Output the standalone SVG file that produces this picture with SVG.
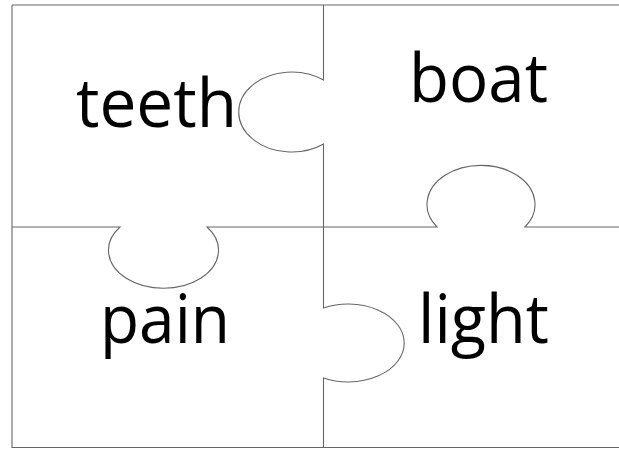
<svg xmlns="http://www.w3.org/2000/svg" width="619" height="449" viewBox="0 0 619 449">
<style>
.cut{fill:none;stroke:#666;stroke-width:1.1}
.word{font-family:"Open Sans","Noto Sans","Liberation Sans",sans-serif;font-size:67px;fill:#000}
</style>
<rect width="619" height="449" fill="#fff"/>
<g id="connectors">
<path class="cut" d="M12,5 H619"/>
<path class="cut" d="M12,5 V447.5 H619"/>
<path class="cut" d="M323.5,5 V80 A53,40 0 1 0 323.5,144 V308 A56,39 0 1 1 323.5,378 V447.5"/>
<path class="cut" d="M12,227 H120 A55,38 0 1 0 207,227 H437 A54,39 0 1 1 525,227 H619"/>
</g>
<g id="teeth"><text class="word" x="76" y="127" textLength="161" lengthAdjust="spacingAndGlyphs">teeth</text></g>
<g id="boat"><text class="word" x="409" y="102" textLength="139" lengthAdjust="spacingAndGlyphs">boat</text></g>
<g id="pain"><text class="word" x="100" y="343" textLength="130" lengthAdjust="spacingAndGlyphs">pain</text></g>
<g id="light"><text class="word" x="418" y="343" textLength="131" lengthAdjust="spacingAndGlyphs">light</text></g>
</svg>
